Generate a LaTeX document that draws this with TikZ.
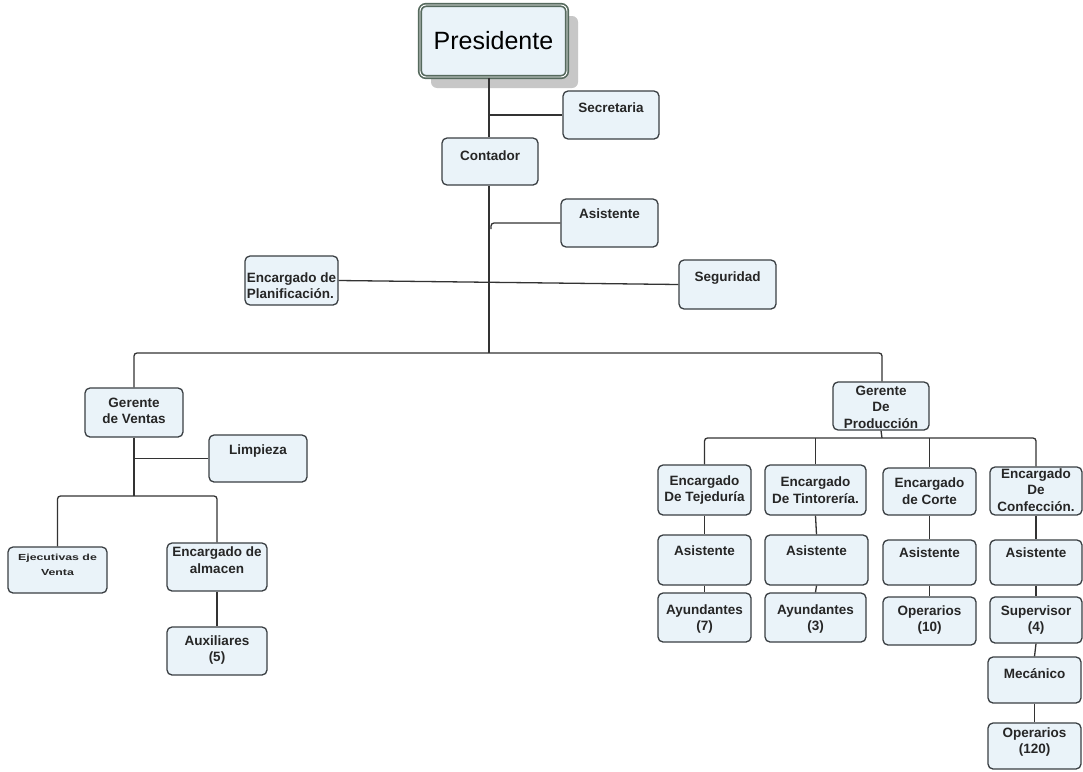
\documentclass[tikz,border=0pt]{standalone}
\usepackage{fontspec}
\setmainfont{Liberation Sans}
\newfontfamily\widefont[FakeStretch=1.4]{Liberation Sans}
\definecolor{boxfill}{HTML}{EAF3F9}
\definecolor{boxline}{HTML}{3A3F43}
\definecolor{presline}{HTML}{566A5E}
\newcommand{\lblfont}{\fontsize{13.5}{16.5}\selectfont\bfseries}
\newcommand{\smallwide}{\widefont\fontsize{8.8}{15}\selectfont\bfseries}
\newcommand{\bx}[8][]{%
  \pgfmathsetmacro\bxw{#5-#3}\pgfmathsetmacro\bxh{#6-#4}%
  \pgfmathsetmacro\bxx{(#3+#5)/2}\pgfmathsetmacro\bxy{(#4+#6)/2}%
  \node[box,minimum width=\bxw pt,minimum height=\bxh pt] (#2) at (\bxx,\bxy) {};
  \node[txt,#1] (#2t) at (\bxx,#7) {#8};}
\begin{document}
\begin{tikzpicture}[x=1pt,y=-1pt,
  box/.style={draw=boxline,line width=1.3pt,fill=boxfill,rounded corners=5pt,inner sep=0pt},
  txt/.style={font=\lblfont,align=center,inner sep=0pt,text=black!85},
  conn/.style={draw=black!80,line width=1.3pt,rounded corners=3pt}]
\useasboundingbox[fill=white] (0,0) rectangle (1083,771);

% Presidente
\fill[black!22,rounded corners=6pt] (431,16) rectangle (578,88);
\node[draw=presline,line width=1.7pt,double=white,double distance=0.9pt,fill=boxfill,
  rounded corners=6pt,minimum width=147pt,minimum height=72pt,inner sep=0pt,
  font=\fontsize{25}{30}\selectfont] (pres) at (493.5,41) {Presidente};

% upper staff
\bx{sec}{563}{91}{659}{139}{108}{Secretaria}
\bx{cont}{442}{138}{538}{185}{156}{Contador}
\bx{asi}{561}{199}{658}{247}{214}{Asistente}
\bx{plan}{245}{256}{338}{305}{287}{\begin{tabular}{@{}l@{}}Encargado de\\Planificación.\end{tabular}}
\bx{seg}{679}{260}{776}{309}{278}{Seguridad}

% sales branch
\bx{gv}{85}{388}{183}{437}{411}{Gerente\\de Ventas}
\bx{limp}{209}{435}{307}{482}{451}{Limpieza}
\bx[font=\smallwide]{ejec}{8}{547}{107}{593}{565}{Ejecutivas de\\Venta}
\bx{alm}{167}{543}{267}{591}{560}{Encargado de\\almacen}
\bx{aux}{167}{627}{267}{675}{650}{Auxiliares\\(5)}

% production manager
\bx{gp}{833}{382}{929}{430}{407}{Gerente\\De\\Producción}

% main spine
\coordinate (busL) at (134,353);
\coordinate (busM) at (489,353);
\coordinate (busR) at (882,353);
\draw[conn] (pres.south -| busM) -- (cont.north -| busM);
\draw[conn] (cont.south -| busM) -- (busM);
\draw[conn] (sec.west) -- (sec.west -| busM);
\draw[conn] (asi.west) -- ([xshift=2pt]asi.west -| busM) -- ([xshift=2pt,yshift=-6pt]asi.west -| busM);
\draw[conn] (plan.east) -- (seg.west);
\draw[conn] (busL |- gv.north) -- (busL) -- (busR) -- (busR |- gp.north);

% sales connectors
\coordinate (vj) at (134,496);
\draw[conn] (gv.south) -- (vj);
\draw[conn] (limp.west) -- (limp.west -| gv.south);
\draw[conn] (ejec.north) |- (vj) -| (alm.north);
\draw[conn] (alm.south) -- (aux.north);

% production branch
\coordinate (pj) at (882,438);
\draw[conn] (gp.south) -- (pj);
\bx{eA}{658}{465}{751}{515}{490}{Encargado\\De Tejeduría}
\bx{eB}{765}{465}{866}{515}{490}{Encargado\\De Tintorería.}
\bx{eC}{883}{468}{976}{515}{491}{Encargado\\de Corte}
\bx{eD}{990}{467}{1082}{515}{490}{Encargado\\De\\Confección.}
\draw[conn] (eA.north) |- (pj) -| (eD.north);
\draw[conn] (eB.north) -- (eB.north |- pj);
\draw[conn] (eC.north) -- (eC.north |- pj);

\bx{aA}{658}{535}{751}{585}{551}{Asistente}
\bx{aB}{765}{535}{868}{585}{551}{Asistente}
\bx{aC}{883}{540}{976}{585}{553}{Asistente}
\bx{aD}{990}{540}{1082}{585}{553}{Asistente}
\bx{yA}{658}{593}{751}{642}{619}{Ayundantes\\(7)}
\bx{yB}{765}{593}{866}{642}{619}{Ayundantes\\(3)}
\bx{oC}{883}{597}{976}{645}{620}{Operarios\\(10)}
\bx{sD}{990}{597}{1082}{643}{620}{Supervisor\\(4)}
\bx{mD}{988}{657}{1081}{703}{674}{Mecánico}
\bx{oD}{988}{723}{1081}{769}{742}{Operarios\\(120)}
\foreach \u/\v in {eA/aA,aA/yA,eB/aB,aB/yB,eC/aC,aC/oC,eD/aD,aD/sD,sD/mD,mD/oD}
  \draw[conn] (\u.south) -- (\v.north);
\end{tikzpicture}
\end{document}
